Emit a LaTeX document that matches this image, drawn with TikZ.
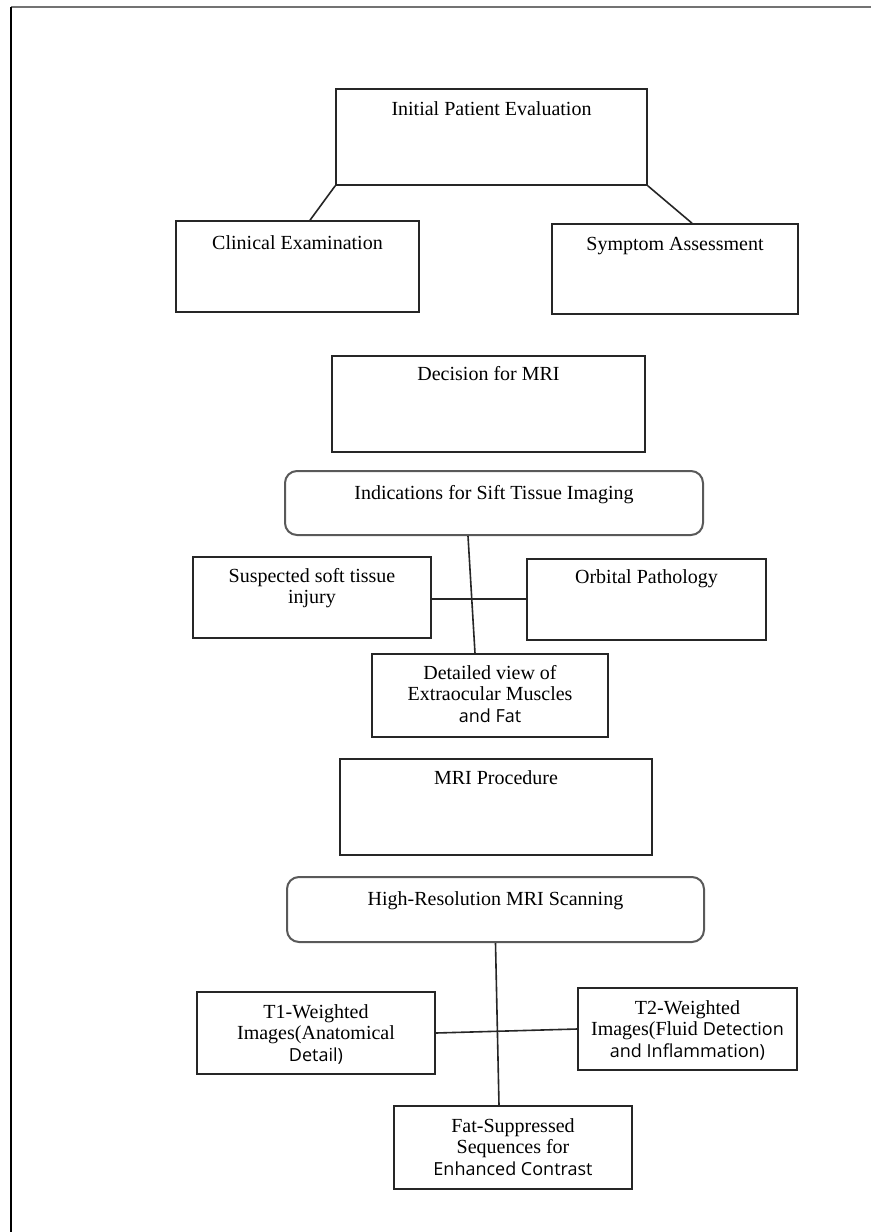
\documentclass[tikz,border=0pt]{standalone}
\usepackage{fontspec}
\setmainfont{Liberation Serif}
\newfontfamily\sansf{Open Sans}
\usetikzlibrary{fit,calc}
\begin{document}
\begin{tikzpicture}[x=1pt,y=-1pt,
  box/.style={draw=black!85,line width=1.6pt,inner sep=0pt,rectangle},
  rbox/.style={draw=black!65,line width=2pt,inner sep=0pt,rectangle,rounded corners=12pt},
  txt/.style={anchor=north,inner sep=0pt,align=center,font=\fontsize{20}{21.5}\selectfont},
  conn/.style={draw=black!85,line width=1.6pt}]
\useasboundingbox (0,0) rectangle (871,1232);
\fill[white] (0,0) rectangle (871,1232);
% frame
\draw[black!55,line width=2pt] (11,7) -- (871,7);
\draw[black,line width=1.5pt] (11,7) -- (11,1232);

% boxes
\node[box,fit={(336,89) (647,185)}] (init) {};
\node[box,fit={(176,221) (419,312)}] (clin) {};
\node[box,fit={(552,224) (798,314)}] (symp) {};
\node[box,fit={(332,356) (645,452)}] (dec) {};
\node[rbox,fit={(285,471) (703,535)}] (ind) {};
\node[box,fit={(193,557) (431,638)}] (susp) {};
\node[box,fit={(527,559) (766,640)}] (orb) {};
\node[box,fit={(372,654) (608,737)}] (det) {};
\node[box,fit={(340,759) (652,855)}] (mri) {};
\node[rbox,fit={(287,877) (704,942)}] (hires) {};
\node[box,fit={(197,992) (435,1074)}] (tone) {};
\node[box,fit={(578,988) (797,1070)}] (ttwo) {};
\node[box,fit={(394,1106) (632,1189)}] (fat) {};

% texts
\node[txt] (init-t) at (491.5,101) {Initial Patient Evaluation};
\node[txt] (clin-t) at (297.5,235) {Clinical Examination};
\node[txt] (symp-t) at (675,237) {Symptom Assessment};
\node[txt] (dec-t) at (488.5,366) {Decision for MRI};
\node[txt] (ind-t) at (494,485) {Indications for Sift Tissue Imaging};
\node[txt] (susp-t) at (312,568) {Suspected soft tissue\\injury};
\node[txt] (orb-t) at (646.5,569) {Orbital Pathology};
\node[txt] (det-t) at (490,665) {Detailed view of\\Extraocular Muscles\\{\sansf\fontsize{18}{21}\selectfont and Fat}};
\node[txt] (mri-t) at (496,770) {MRI Procedure};
\node[txt] (hires-t) at (495.5,891) {High-Resolution MRI Scanning};
\node[txt] (tone-t) at (316,1004) {T1-Weighted\\Images(Anatomical\\{\sansf\fontsize{18}{21}\selectfont Detail)}};
\node[txt] (ttwo-t) at (687.5,1000) {T2-Weighted\\Images(Fluid {\sansf\fontsize{18}{21}\selectfont Detection}\\{\sansf\fontsize{18}{21}\selectfont and Inflammation)}};
\node[txt] (fat-t) at (513,1118) {Fat-Suppressed\\Sequences for\\{\sansf\fontsize{18}{21}\selectfont Enhanced Contrast}};

% connectors
\draw[conn] (init.south west) -- ([xshift=12.5pt]clin.north);
\draw[conn] (init.south east) -- ([xshift=17pt]symp.north);
\draw[conn] ([xshift=-26pt]ind.south) -- ([xshift=-15pt]det.north);
\draw[conn] ([yshift=-1.5pt]susp.east) -- ([yshift=-1.5pt]susp.east -| orb.west);
\draw[conn] (hires.south) -- ([xshift=-14pt]fat.north);
\draw[conn] (tone.east) -- (ttwo.west);
\end{tikzpicture}
\end{document}
